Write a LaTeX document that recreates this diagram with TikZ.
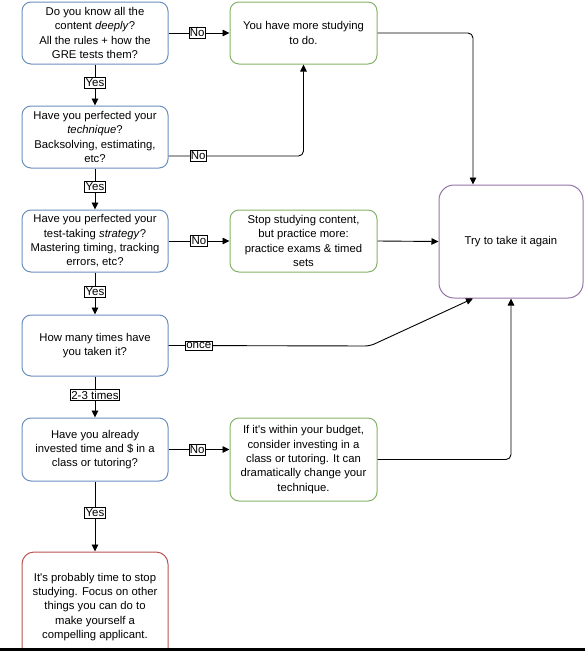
\documentclass[tikz,border=0pt]{standalone}
\usepackage{fontspec}
\setmainfont{Liberation Sans}
\usetikzlibrary{arrows.meta,calc}
\definecolor{bluec}{HTML}{6C8EBF}
\definecolor{greenc}{HTML}{82B366}
\definecolor{redc}{HTML}{B85450}
\definecolor{purplec}{HTML}{9673A6}
\begin{document}
\begin{tikzpicture}[x=1pt,y=-1pt,
  font=\fontsize{11.3}{14.4}\selectfont,
  box/.style={draw, rounded corners=9pt, line width=1pt, align=center, inner sep=0pt, minimum width=146pt},
  qbox/.style={box, draw=bluec},
  gbox/.style={box, draw=greenc, minimum width=147pt},
  lbl/.style={draw, fill=white, sharp corners, line width=0.6pt, inner xsep=1pt, inner ysep=1.5pt, font=\fontsize{11.5}{13}\selectfont},
  conn/.style={line width=0.9pt, rounded corners=5pt},
  arr/.style={conn, -{Triangle[length=7pt,width=6.5pt]}}]
\useasboundingbox (0,0) rectangle (585,651);

% question boxes
\node[qbox, minimum height=62pt] (b1) at (95,33) {Do you know all the\\content \textit{deeply}?\\All the rules + how the\\GRE tests them?};
\node[qbox, minimum height=62pt] (b2) at (95,137) {Have you perfected your\\\textit{technique}?\\Backsolving, estimating,\\etc?};
\node[qbox, minimum height=62pt] (b3) at (95,241) {Have you perfected your\\test-taking \textit{strategy}?\\Mastering timing, tracking\\errors, etc?};
\node[qbox, minimum height=61pt] (b4) at (95,345.5) {How many times have\\you taken it?};
\node[qbox, minimum height=63pt] (b5) at (95,449.5) {Have you already\\invested time and \$ in a\\class or tutoring?};
\node[box, draw=redc, minimum height=110pt, rounded corners=12pt] (rb) at (95,607) {It\textquotesingle s probably time to stop\\studying. Focus on other\\things you can do to\\make yourself a\\compelling applicant.};

% outcome boxes
\node[gbox, minimum height=62pt] (g1) at (303.5,33) {You have more studying\\to do.};
\node[gbox, minimum height=62pt] (g2) at (303.5,241) {Stop studying content,\\but practice more:\\practice exams \& timed\\sets};
\node[gbox, minimum height=83pt] (g3) at (303.5,459.5) {If it\textquotesingle s within your budget,\\consider investing in a\\class or tutoring. It can\\dramatically change your\\technique.};
\node[box, draw=purplec, minimum width=144pt, minimum height=113pt, rounded corners=15pt] (tr) at (511,241.5) {Try to take it again};

% helper coordinates
\coordinate (b2o) at ([yshift=-19pt]b2.east);
\coordinate (trn) at ([xshift=-38pt]tr.north);
\coordinate (trs) at ([xshift=-38pt]tr.south);
\coordinate (bend) at (370,346);

% vertical flow
\draw[arr] (b1.south) -- node[lbl, pos=0.45] {Yes} (b2.north);
\draw[arr] (b2.south) -- node[lbl, pos=0.45] {Yes} (b3.north);
\draw[arr] (b3.south) -- node[lbl, pos=0.45] {Yes} (b4.north);
\draw[arr] (b4.south) -- node[lbl, pos=0.45] {2-3 times} (b5.north);
\draw[arr] (b5.south) -- node[lbl, pos=0.45] {Yes} (rb.north);

% No branches
\draw[arr] (b1.east) -- node[lbl, pos=0.47] {No} (g1.west);
\draw[arr] (b2o) -- node[lbl, pos=0.22] {No} (b2o -| g1.south) -- (g1.south);
\draw[arr] (b3.east) -- node[lbl, pos=0.5] {No} (g2.west);
\draw[arr] (b5.east) -- node[lbl, pos=0.47] {No} (b5.east -| g3.west);
\draw[arr] (b4.east) -- node[lbl, pos=0.15] {once} (bend) -- (trs);

% to "try again"
\draw[arr] (g1.east) -| (trn);
\draw[arr] (g2.east) -- (tr.west);
\draw[arr] (g3.east) -| (tr.south);

% bottom bar
\fill (0,647.5) rectangle (585,651);
\end{tikzpicture}
\end{document}
